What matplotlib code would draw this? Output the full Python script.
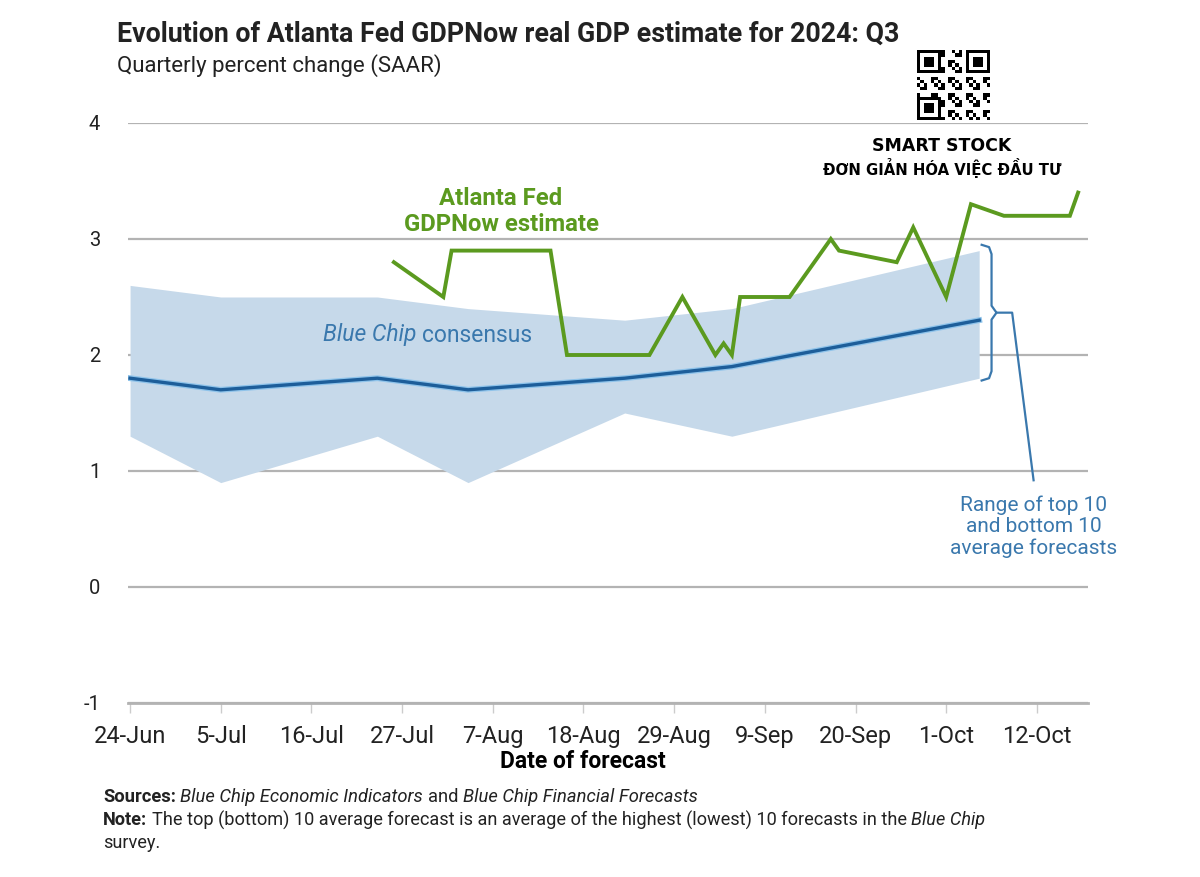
import matplotlib
matplotlib.use('Agg')
import matplotlib.pyplot as plt
import matplotlib.dates as mdates
import matplotlib.patheffects as pe
import numpy as np
import pandas as pd

# Blue Chip survey band + consensus
band_dates = pd.to_datetime(['2024-06-24', '2024-07-05', '2024-07-24', '2024-08-04',
                             '2024-08-23', '2024-09-05', '2024-10-05'])
band_top = [2.6, 2.5, 2.5, 2.4, 2.3, 2.4, 2.9]
band_bottom = [1.3, 0.9, 1.3, 0.9, 1.5, 1.3, 1.8]
consensus = [1.8, 1.7, 1.8, 1.7, 1.8, 1.9, 2.3]

# Atlanta Fed GDPNow
now_dates = pd.to_datetime(['2024-07-26', '2024-08-01', '2024-08-02', '2024-08-14', '2024-08-16',
                            '2024-08-26', '2024-08-30', '2024-09-03', '2024-09-04', '2024-09-05',
                            '2024-09-06', '2024-09-12', '2024-09-17', '2024-09-18', '2024-09-25',
                            '2024-09-27', '2024-10-01', '2024-10-04', '2024-10-08', '2024-10-16',
                            '2024-10-17'])
gdpnow = [2.8, 2.5, 2.9, 2.9, 2.0, 2.0, 2.5, 2.0, 2.1, 2.0, 2.5, 2.5, 3.0, 2.9, 2.8,
          3.1, 2.5, 3.3, 3.2, 3.2, 3.4]

tick_dates = pd.date_range('2024-06-24', '2024-10-12', freq='11D')
tick_labels = ['24-Jun', '5-Jul', '16-Jul', '27-Jul', '7-Aug', '18-Aug', '29-Aug',
               '9-Sep', '20-Sep', '1-Oct', '12-Oct']
yticks = [-1, 0, 1, 2, 3, 4]

W, H = 1200, 877
GREEN = '#5b9a1f'
DBLUE = '#1d5e9a'
TBLUE = '#3a78ad'
BAND = '#c6d9ea'
GRID = '#b3b3b3'

plt.rcParams['font.family'] = ['Roboto', 'DejaVu Sans']
fig = plt.figure(figsize=(W / 100, H / 100), dpi=100)
ax = fig.add_axes([128 / W, 1 - 703 / H, 960 / W, 580 / H])

ax.fill_between(band_dates, band_bottom, band_top, color=BAND, lw=0, zorder=1)
ax.plot(band_dates, consensus, color=DBLUE, lw=2.4, zorder=3,
        path_effects=[pe.Stroke(linewidth=4.2, foreground='#8ec3ea'), pe.Normal()])
ax.plot(now_dates, gdpnow, color=GREEN, lw=2.8, zorder=4, solid_joinstyle='miter')

x0 = pd.Timestamp('2024-06-24') - pd.Timedelta(hours=6)
x1 = pd.Timestamp('2024-06-24') + pd.Timedelta(days=116.2)
ax.set_xlim(x0, x1)
ax.set_ylim(-1, 4)
ax.set_yticks(yticks)
ax.set_yticklabels([str(v) for v in yticks], fontsize=14.5)
ax.grid(axis='y', color=GRID, lw=1.6, zorder=0)
ax.set_axisbelow(True)
ax.set_xticks(tick_dates)
ax.set_xticklabels(tick_labels, fontsize=17, color='#222222')
for s in ['top', 'right', 'left']:
    ax.spines[s].set_visible(False)
ax.spines['bottom'].set_color(GRID)
ax.spines['bottom'].set_linewidth(2)
ax.tick_params(axis='x', length=7, width=1, color='#cccccc', pad=9)
ax.tick_params(axis='y', length=0, pad=20, labelcolor='#222222')
ax.set_xlabel('Date of forecast', fontsize=16.5, fontweight='bold')
ax.xaxis.set_label_coords((583 - 128) / 960, -(762 - 703) / 580)
ax.xaxis.label.set_va('center')

# curly brace showing the range of the last survey
last = mdates.date2num(band_dates[-1])
xb = last + 0.3
top, bot = band_top[-1] + 0.05, band_bottom[-1] - 0.02
mid = (top + bot) / 2
bx = [xb, xb + 0.9, xb + 1.2, xb + 1.2, xb + 1.8, xb + 1.2, xb + 1.2, xb + 0.9, xb]
by = [top, top - 0.02, top - 0.08, mid + 0.06, mid, mid - 0.06, bot + 0.08, bot + 0.02, bot]
ax.plot(bx, by, color=TBLUE, lw=1.6, clip_on=False, zorder=5)
ax.plot([xb + 1.8, xb + 3.7, xb + 6.3], [mid, mid, 0.92], color=TBLUE, lw=1.6,
        clip_on=False, zorder=5)
ax.text(xb + 6.3, 0.52, 'Range of top 10\nand bottom 10\naverage forecasts', color=TBLUE,
        fontsize=15, ha='center', va='center', linespacing=1.15)

# series labels
ax.text(pd.Timestamp('2024-08-08'), 3.24, 'Atlanta Fed\nGDPNow estimate', color=GREEN,
        fontsize=17.2, fontweight='bold', ha='center', va='center', linespacing=1.15)

renderer = fig.canvas.get_renderer()


def runs(x, y, parts, size, color):
    # text pieces with different styles, one after another (pixel coords)
    sp = None
    for txt, w, st in parts:
        t = fig.text(x / W, 1 - y / H, txt, fontsize=size, fontweight=w, fontstyle=st,
                     color=color, va='center', ha='left')
        if sp is None:
            a = fig.text(0, 0, 'a a', fontsize=size)
            b = fig.text(0, 0, 'aa', fontsize=size)
            sp = a.get_window_extent(renderer).width - b.get_window_extent(renderer).width
            a.remove()
            b.remove()
        x += t.get_window_extent(renderer).width + sp


runs(323, 335, [('Blue Chip', 'normal', 'italic'), ('consensus', 'normal', 'normal')], 16.5, TBLUE)

fig.text(117 / W, 1 - 34 / H, 'Evolution of Atlanta Fed GDPNow real GDP estimate for 2024: Q3',
         fontsize=19.3, fontweight='bold', color='#222222', va='center')
fig.text(117 / W, 1 - 66 / H, 'Quarterly percent change (SAAR)', fontsize=16,
         color='#222222', va='center')

runs(103, 797, [('Sources:', 'bold', 'normal'), ('Blue Chip Economic Indicators', 'normal', 'italic'),
                ('and', 'normal', 'normal'), ('Blue Chip Financial Forecasts', 'normal', 'italic')],
     13.2, '#222222')
runs(103, 820, [('Note:', 'bold', 'normal'),
                ('The top (bottom) 10 average forecast is an average of the highest (lowest) 10 forecasts in the',
                 'normal', 'normal'), ('Blue Chip', 'normal', 'italic')], 13.1, '#222222')
fig.text(103 / W, 1 - 843 / H, 'survey.', fontsize=13.1, color='#222222', va='center')

# watermark
fig.text(942 / W, 1 - 146 / H, 'SMART STOCK', fontsize=12.5, fontweight='bold',
         family='DejaVu Sans', ha='center', va='center', color='black')
fig.text(942 / W, 1 - 168 / H, 'ĐƠN GIẢN HÓA VIỆC ĐẦU TƯ', fontsize=10.7, fontweight='bold',
         family='DejaVu Sans', ha='center', va='center', color='black')
qr = fig.add_axes([917 / W, 1 - 120 / H, 73 / W, 70 / H])
n = 21
grid = np.zeros((n, n))
for i in range(n):
    for j in range(n):
        grid[i, j] = ((i * 7 + j * 3 + i * j) % 5) < 2
for (r, c) in [(0, 0), (0, n - 7), (n - 7, 0)]:
    grid[r:r + 7, c:c + 7] = 1
    grid[r + 1:r + 6, c + 1:c + 6] = 0
    grid[r + 2:r + 5, c + 2:c + 5] = 1
qr.imshow(grid, cmap='Greys', interpolation='nearest', aspect='auto')
qr.axis('off')

fig.savefig('out.png', dpi=100)
